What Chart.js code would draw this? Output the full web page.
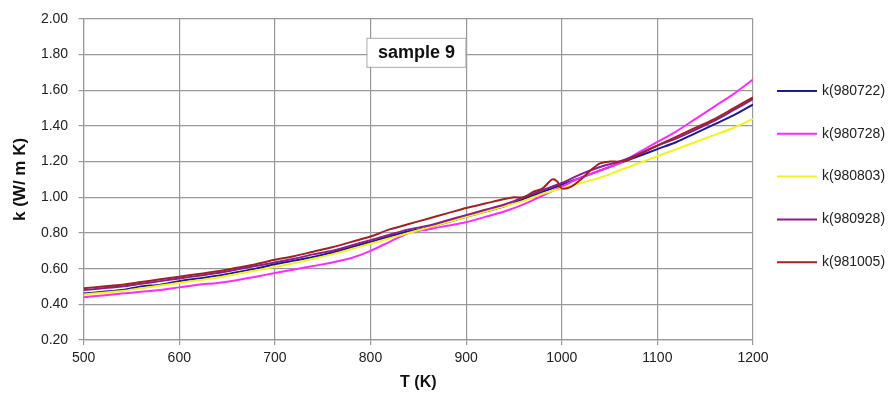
<!DOCTYPE html>
<html>
<head>
<meta charset="utf-8">
<script src="https://cdn.jsdelivr.net/npm/chart.js@4.4.1/dist/chart.umd.min.js"></script>
<style>
  html, body { margin: 0; padding: 0; background: #fff; }
  .wrap { width: 888px; height: 394px; }
</style>
</head>
<body>
<div class="wrap"><canvas class="js-chart"></canvas></div>
<script>
const temps = [500, 520, 540, 560, 580, 600, 620, 640, 660, 680, 700, 720, 740, 760, 780, 800, 820, 840,
  860, 880, 900, 920, 940, 960, 980, 1000, 1020, 1040, 1060, 1080, 1100, 1120, 1140, 1160, 1180, 1200];

const k980722 = [0.46, 0.47, 0.48, 0.50, 0.51, 0.53, 0.545, 0.56, 0.58, 0.60, 0.625, 0.645, 0.665, 0.69, 0.72, 0.75, 0.78, 0.81,
  0.83, 0.86, 0.89, 0.92, 0.95, 0.99, 1.03, 1.07, 1.11, 1.15, 1.19, 1.23, 1.27, 1.31, 1.36, 1.41, 1.46, 1.52];
const k980728 = [0.44, 0.45, 0.46, 0.47, 0.48, 0.495, 0.51, 0.52, 0.535, 0.555, 0.575, 0.595, 0.615, 0.635, 0.66, 0.70, 0.75, 0.80,
  0.82, 0.84, 0.86, 0.89, 0.92, 0.96, 1.01, 1.06, 1.11, 1.15, 1.19, 1.25, 1.31, 1.37, 1.44, 1.51, 1.58, 1.66];
const k980803 = [0.455, 0.465, 0.475, 0.49, 0.505, 0.52, 0.535, 0.55, 0.57, 0.59, 0.61, 0.63, 0.655, 0.68, 0.71, 0.74, 0.77, 0.80,
  0.83, 0.86, 0.89, 0.92, 0.95, 0.98, 1.02, 1.05, 1.08, 1.11, 1.15, 1.19, 1.23, 1.27, 1.31, 1.35, 1.39, 1.44];
const k980928 = [0.48, 0.49, 0.50, 0.515, 0.53, 0.545, 0.56, 0.575, 0.595, 0.615, 0.635, 0.655, 0.68, 0.70, 0.73, 0.76, 0.79, 0.82,
  0.84, 0.87, 0.90, 0.93, 0.96, 1.00, 1.04, 1.08, 1.13, 1.17, 1.20, 1.24, 1.29, 1.33, 1.38, 1.43, 1.49, 1.55];

// 981005 has a few wiggles, so it gets its own temperature steps
const temps981005 = [500, 520, 540, 560, 580, 600, 620, 640, 660, 680, 700, 720, 740, 760, 780, 800, 820, 840, 860, 880,
  900, 920, 940, 950, 960, 970, 980, 990, 995, 1000, 1010, 1020, 1030, 1040, 1050, 1060, 1070, 1080,
  1100, 1120, 1140, 1160, 1180, 1200];
const k981005 = [0.49, 0.50, 0.51, 0.525, 0.54, 0.555, 0.57, 0.585, 0.605, 0.625, 0.65, 0.67, 0.695, 0.72, 0.75, 0.78, 0.82, 0.85, 0.88, 0.91,
  0.94, 0.965, 0.99, 1.00, 1.00, 1.03, 1.05, 1.10, 1.09, 1.05, 1.06, 1.10, 1.15, 1.19, 1.20, 1.20, 1.21, 1.24,
  1.29, 1.34, 1.39, 1.44, 1.50, 1.56];

const yTicks = [0.2, 0.4, 0.6, 0.8, 1.0, 1.2, 1.4, 1.6, 1.8, 2.0];

const series = [
  { label: 'k(980722)', t: temps, k: k980722, color: '#1c1c8e', order: 5 },
  { label: 'k(980728)', t: temps, k: k980728, color: '#ff2cff', order: 4 },
  { label: 'k(980803)', t: temps, k: k980803, color: '#f2f21e', order: 3 },
  { label: 'k(980928)', t: temps, k: k980928, color: '#8e1c8e', order: 2 },
  { label: 'k(981005)', t: temps981005, k: k981005, color: '#9c2424', order: 1 }
];

const FONT = '"Liberation Sans", Arial, sans-serif';

const sideLegend = {
  id: 'sideLegend',
  afterDraw(chart) {
    const c = chart.ctx;
    c.save();
    c.font = '14px ' + FONT;
    c.textBaseline = 'middle';
    chart.data.datasets.forEach((ds, i) => {
      const y = 91 + i * 42.8;
      c.strokeStyle = ds.borderColor;
      c.lineWidth = 2;
      c.beginPath();
      c.moveTo(777, y);
      c.lineTo(817, y);
      c.stroke();
      c.fillStyle = '#222';
      c.fillText(ds.label, 822, y);
    });
    c.restore();
  }
};

const sampleBox = {
  id: 'sampleBox',
  afterDraw(chart) {
    const c = chart.ctx;
    const cx = chart.scales.x.getPixelForValue(848);
    const cy = chart.scales.y.getPixelForValue(1.81);
    c.save();
    c.fillStyle = '#fff';
    c.strokeStyle = '#aaa';
    c.lineWidth = 1;
    c.fillRect(cx - 49, cy - 14, 98, 28);
    c.strokeRect(cx - 49.5, cy - 14.5, 99, 29);
    c.font = 'bold 18px ' + FONT;
    c.fillStyle = '#111';
    c.textAlign = 'center';
    c.textBaseline = 'middle';
    c.fillText('sample 9', cx, cy);
    c.restore();
  }
};

const ctx = document.querySelector('.js-chart').getContext('2d');

const kChart = new Chart(ctx, {
  type: 'line',
  data: {
    datasets: series.map(s => ({
      label: s.label,
      data: s.t.map((t, i) => ({ x: t, y: s.k[i] })),
      borderColor: s.color,
      backgroundColor: s.color,
      borderWidth: 2,
      pointRadius: 0,
      tension: 0.3,
      fill: false,
      order: s.order
    }))
  },
  options: {
    responsive: true,
    maintainAspectRatio: false,
    animation: false,
    layout: { padding: { left: 10, right: 135, top: 18, bottom: 2 } },
    plugins: {
      legend: { display: false },
      tooltip: { enabled: false }
    },
    scales: {
      x: {
        type: 'linear',
        min: 500,
        max: 1200,
        ticks: {
          stepSize: 100,
          color: '#222',
          font: { family: FONT, size: 14 },
          padding: 5,
          maxRotation: 0,
          callback: v => String(v)
        },
        grid: { display: true, drawOnChartArea: true, color: '#999999', lineWidth: 1.2, tickLength: 5 },
        border: { display: true, color: '#999999', width: 1.2 },
        title: {
          display: true,
          text: 'T (K)',
          color: '#111',
          font: { family: FONT, size: 16, weight: 'bold' },
          padding: { top: 1, bottom: 0 }
        }
      },
      y: {
        min: 0.2,
        max: 2.0,
        afterBuildTicks(axis) {
          axis.ticks = yTicks.map(v => ({ value: v }));
        },
        ticks: {
          color: '#222',
          font: { family: FONT, size: 14 },
          padding: 10.5,
          callback: v => Number(v).toFixed(2)
        },
        grid: { display: true, drawOnChartArea: true, color: '#999999', lineWidth: 1.2, tickLength: 5 },
        border: { display: true, color: '#999999', width: 1.2 },
        title: {
          display: true,
          text: 'k (W/ m K)',
          color: '#111',
          font: { family: FONT, size: 17, weight: 'bold' },
          padding: { top: 0, bottom: 0 }
        }
      }
    }
  },
  plugins: [sideLegend, sampleBox]
});
</script>
</body>
</html>
